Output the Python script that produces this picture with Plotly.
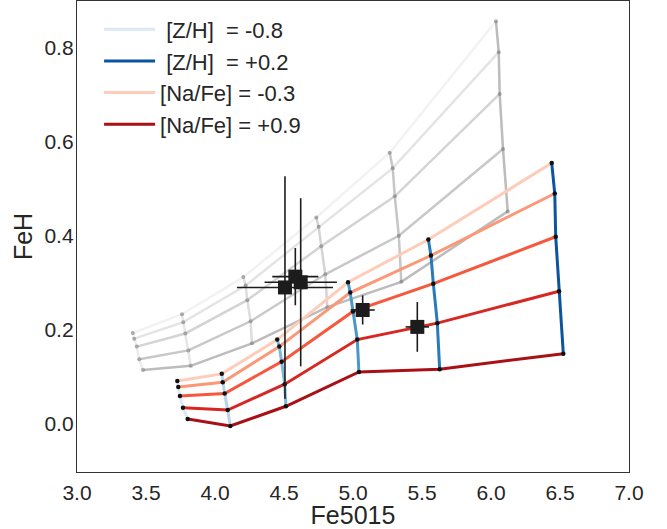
import plotly.graph_objects as go

# Model grid (coloured): rows = [Na/Fe], columns = [Z/H]
zh_values = [-0.8, -0.6, -0.4, -0.2, 0.0, 0.2]
nafe_values = [-0.3, 0.0, 0.3, 0.6, 0.9]

model_fe5015 = [
    [3.727, 4.049, 4.451, 4.964, 5.546, 6.440],
    [3.734, 4.056, 4.466, 4.980, 5.565, 6.462],
    [3.746, 4.070, 4.483, 5.000, 5.582, 6.469],
    [3.768, 4.092, 4.505, 5.031, 5.611, 6.493],
    [3.802, 4.111, 4.514, 5.043, 5.628, 6.524],
]
model_feh = [
    [0.090, 0.105, 0.178, 0.300, 0.391, 0.554],
    [0.077, 0.087, 0.163, 0.278, 0.357, 0.489],
    [0.058, 0.063, 0.131, 0.238, 0.297, 0.397],
    [0.033, 0.028, 0.083, 0.178, 0.213, 0.281],
    [0.009, -0.006, 0.036, 0.109, 0.115, 0.148],
]

# Model grid (grey)
grey_fe5015 = [
    [3.404, 3.761, 4.205, 4.734, 5.266, 6.036],
    [3.415, 3.770, 4.222, 4.751, 5.288, 6.056],
    [3.433, 3.785, 4.234, 4.770, 5.303, 6.063],
    [3.451, 3.807, 4.258, 4.799, 5.332, 6.087],
    [3.478, 3.824, 4.268, 4.814, 5.350, 6.121],
]
grey_feh = [
    [0.192, 0.232, 0.311, 0.438, 0.576, 0.856],
    [0.180, 0.215, 0.293, 0.418, 0.543, 0.790],
    [0.163, 0.191, 0.262, 0.377, 0.483, 0.701],
    [0.136, 0.155, 0.217, 0.317, 0.399, 0.584],
    [0.113, 0.122, 0.170, 0.247, 0.301, 0.451],
]

# Observations
obs_fe5015 = [4.507, 4.582, 4.621, 5.070, 5.466]
obs_feh = [0.289, 0.312, 0.300, 0.241, 0.205]
obs_fe5015_err = [0.348, 0.167, 0.262, 0.087, 0.085]
obs_feh_err = [0.237, 0.061, 0.179, 0.031, 0.053]

legend_labels = ["\u00a0[Z/H]\u00a0\u00a0= -0.8", "\u00a0[Z/H]\u00a0\u00a0= +0.2",
                 "[Na/Fe] = -0.3", "[Na/Fe] = +0.9"]

red_colors = ["#fdcdb9", "#fc9777", "#f6583e", "#d72723", "#a91016"]
blue_colors = ["#dbe9f6", "#b7d4ea", "#7db8da", "#4a98c9", "#2a7ab9", "#0b559f"]
grey_row_colors = ["#f2f2f2", "#e4e4e4", "#d4d4d4", "#c8c8c8", "#bcbcbc"]
grey_col_colors = ["#ececec", "#e6e6e6", "#dddddd", "#d4d4d4", "#c6c6c6", "#bcbcbc"]

fig = go.Figure()

nrow = len(nafe_values)
ncol = len(zh_values)

# grey grid
for i in range(nrow):
    fig.add_trace(go.Scatter(x=grey_fe5015[i], y=grey_feh[i], mode="lines",
                             line=dict(color=grey_row_colors[i], width=2.5),
                             showlegend=False, hoverinfo="skip"))
for j in range(ncol):
    fig.add_trace(go.Scatter(x=[grey_fe5015[i][j] for i in range(nrow)],
                             y=[grey_feh[i][j] for i in range(nrow)], mode="lines",
                             line=dict(color=grey_col_colors[j], width=2.5),
                             showlegend=False, hoverinfo="skip"))
fig.add_trace(go.Scatter(x=[v for r in grey_fe5015 for v in r],
                         y=[v for r in grey_feh for v in r], mode="markers",
                         marker=dict(color="rgba(120,120,120,0.6)", size=4),
                         showlegend=False, hoverinfo="skip"))

# coloured grid
for i in range(nrow):
    fig.add_trace(go.Scatter(x=model_fe5015[i], y=model_feh[i], mode="lines",
                             line=dict(color=red_colors[i], width=3),
                             showlegend=False))
for j in range(ncol):
    fig.add_trace(go.Scatter(x=[model_fe5015[i][j] for i in range(nrow)],
                             y=[model_feh[i][j] for i in range(nrow)], mode="lines",
                             line=dict(color=blue_colors[j], width=3),
                             showlegend=False))
fig.add_trace(go.Scatter(x=[v for r in model_fe5015 for v in r],
                         y=[v for r in model_feh for v in r], mode="markers",
                         marker=dict(color="#111111", size=4.5),
                         showlegend=False))

# observations
fig.add_trace(go.Scatter(x=obs_fe5015, y=obs_feh, mode="markers",
                         marker=dict(symbol="square", size=14, color="#1c1c1c"),
                         error_x=dict(type="data", array=obs_fe5015_err, color="#1c1c1c",
                                      thickness=1.6, width=0),
                         error_y=dict(type="data", array=obs_feh_err, color="#1c1c1c",
                                      thickness=1.6, width=0),
                         showlegend=False))

# legend entries
legend_colors = [blue_colors[0], blue_colors[-1], red_colors[0], red_colors[-1]]
for lab, col in zip(legend_labels, legend_colors):
    fig.add_trace(go.Scatter(x=[None], y=[None], mode="lines", name=lab,
                             line=dict(color=col, width=3)))

axis_common = dict(showgrid=False, zeroline=False, showline=True, mirror=True,
                   linecolor="#333333", linewidth=1.3, ticks="outside", ticklen=4,
                   tickcolor="rgba(0,0,0,0)",
                   tickfont=dict(family="Liberation Sans, Arial", size=21, color="#262626"))

fig.update_layout(
    width=667, height=529,
    margin=dict(l=77, r=38, t=1, b=57),
    paper_bgcolor="white", plot_bgcolor="white",
    font=dict(family="Liberation Sans, Arial", size=21, color="#262626"),
    xaxis=dict(range=[3.0, 7.0], tickvals=[3.0, 3.5, 4.0, 4.5, 5.0, 5.5, 6.0, 6.5, 7.0],
               ticktext=["3.0", "3.5", "4.0", "4.5", "5.0", "5.5", "6.0", "6.5", "7.0"],
               ticklabelstandoff=-2, automargin=False,
               title=dict(text="Fe5015"), **axis_common),
    yaxis=dict(range=[-0.104, 0.899], tickvals=[0.0, 0.2, 0.4, 0.6, 0.8],
               ticktext=["0.0", "0.2", "0.4", "0.6", "0.8"],
               ticklabelstandoff=-6, automargin=True,
               title=dict(text="FeH", standoff=4), **axis_common),
    legend=dict(x=0.04, y=0.984, xanchor="left", yanchor="top", itemwidth=51,
                bgcolor="rgba(0,0,0,0)", font=dict(size=22), tracegroupgap=0),
)

fig.write_html("out.html", post_script="document.body.style.margin='0';",
               config={"displayModeBar": False})
